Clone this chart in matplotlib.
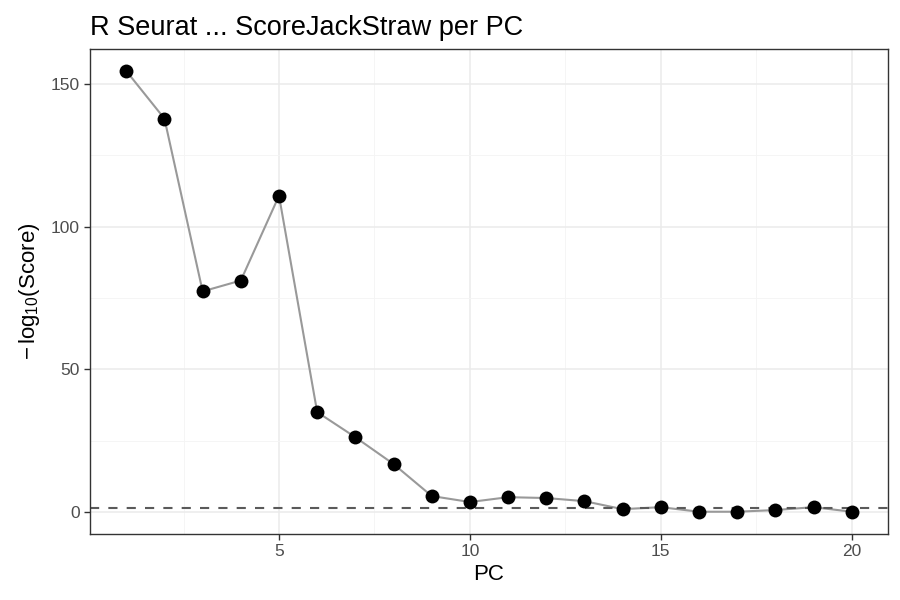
import matplotlib
matplotlib.use('Agg')
import matplotlib.pyplot as plt

plt.rcParams['font.family'] = ['Liberation Sans', 'DejaVu Sans']
plt.rcParams['mathtext.fontset'] = 'custom'
plt.rcParams['mathtext.rm'] = 'Liberation Sans'
plt.rcParams['mathtext.it'] = 'Liberation Sans'

pcs = list(range(1, 21))
scores = [154.5, 137.8, 77.3, 81.1, 110.8, 35.0, 26.2, 16.8, 5.6, 3.5,
          5.2, 4.9, 3.8, 1.0, 1.7, 0.1, 0.1, 0.7, 1.7, 0.1]
threshold = 1.301  # -log10(0.05)

fig = plt.figure(figsize=(9, 6), dpi=100)
ax = fig.add_axes([0.1, 0.11, 0.8867, 0.8083])

ax.plot(pcs, scores, color='#999999', lw=1.5, zorder=2)
ax.scatter(pcs, scores, s=100, color='black', zorder=3, linewidths=0)
ax.axhline(threshold, color='#5a5a5a', lw=1.5, ls=(0, (4.4, 4.4)), zorder=2.5)

ax.set_xlim(0.05, 20.95)
ax.set_ylim(-7.7, 162.2)
ax.set_xticks([5, 10, 15, 20])
ax.set_yticks([0, 50, 100, 150])
ax.set_xticks([2.5, 7.5, 12.5, 17.5], minor=True)
ax.set_yticks([25, 75, 125], minor=True)
ax.grid(which='major', color='#ebebeb', lw=1.1, zorder=0)
ax.grid(which='minor', color='#f4f4f4', lw=0.6, zorder=0)
ax.set_axisbelow(True)
ax.tick_params(which='major', length=4, color='#333333', labelsize=12.5,
               labelcolor='#4d4d4d', width=1)
ax.tick_params(which='minor', length=0)
for s in ax.spines.values():
    s.set_color('#333333')
    s.set_linewidth(1)

ax.set_xlabel('PC', fontsize=16, labelpad=3)
ax.set_ylabel(r'$-\,\mathrm{log}_{10}(\mathrm{Score})$', fontsize=16, labelpad=6)
ax.set_title('R Seurat ... ScoreJackStraw per PC', fontsize=19.5, loc='left', pad=10,
             x=0.0)

fig.savefig('out.png', dpi=100)
